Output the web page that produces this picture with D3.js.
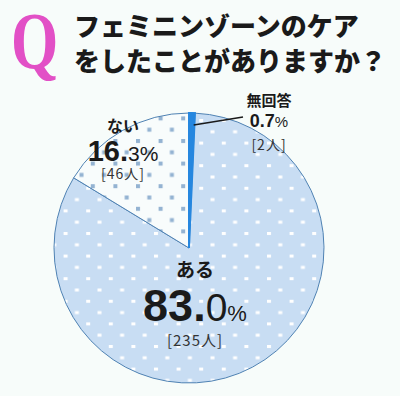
<!DOCTYPE html>
<html>
<head>
<meta charset="utf-8">
<script src="https://cdn.jsdelivr.net/npm/d3@7"></script>
<style>
  body { margin: 0; background: #f7fcfa; }
  text { font-family: "Noto Sans CJK JP", sans-serif; fill: #1a1a1a; }
  .num { font-family: "Liberation Sans", Arial, sans-serif; }
</style>
</head>
<body>
<div id="vis"></div>
<script>
    // answers, clockwise from 12 o'clock
    var labels = ["無回答", "ある", "ない"],
        percents = [0.7, 83.0, 16.3],
        counts = [2, 235, 46];

    var titleLines = ["フェミニンゾーンのケア", "をしたことがありますか？"];

    var width = 400, height = 396,
        cx = 189, cy = 248, radius = 135;

    var svg = d3.select("#vis").append("svg").attr("width", width).attr("height", height);

    svg.append("rect").attr("width", width).attr("height", height).attr("fill", "#f7fcfa");

    // dot patterns
    var defs = svg.append("defs");
    var p1 = defs.append("pattern").attr("id", "dotsYes").attr("patternUnits", "userSpaceOnUse")
        .attr("x", 304).attr("y", 210).attr("width", 22.6).attr("height", 22.6);
    p1.append("rect").attr("width", 22.6).attr("height", 22.6).attr("fill", "#c8ddf3");
    p1.append("rect").attr("x", 0).attr("y", 0).attr("width", 4).attr("height", 3).attr("fill", "#fff");
    p1.append("rect").attr("x", 11.3).attr("y", 11.3).attr("width", 4).attr("height", 3).attr("fill", "#fff");

    var p2 = defs.append("pattern").attr("id", "dotsNo").attr("patternUnits", "userSpaceOnUse")
        .attr("x", 173).attr("y", 117).attr("width", 22.6).attr("height", 22.6);
    p2.append("rect").attr("width", 22.6).attr("height", 22.6).attr("fill", "#f8fcfc");
    p2.append("rect").attr("x", 0).attr("y", 0).attr("width", 4).attr("height", 4).attr("fill", "#94b3d2");
    p2.append("rect").attr("x", 11.3).attr("y", 11.3).attr("width", 4).attr("height", 4).attr("fill", "#94b3d2");

    var fills = ["#2687df", "url(#dotsYes)", "url(#dotsNo)"];

    var pie = d3.pie().sort(null).value(function (d) { return d; });
    var arc = d3.arc().innerRadius(0).outerRadius(radius);

    var g = svg.append("g").attr("transform", "translate(" + cx + "," + cy + ")");

    var slices = pie(percents);

    g.selectAll("path.slice").data(slices).enter().append("path")
        .attr("class", "slice")
        .attr("d", arc)
        .attr("fill", function (d, i) { return fills[i]; })
        .attr("stroke", function (d, i) { return i === 0 ? "#2687df" : "#4f82b3"; })
        .attr("stroke-width", function (d, i) { return i === 0 ? 2 : 1; })
        .attr("stroke-linejoin", "round");

    // redraw the thin slice on top so the outline doesn't hide it
    g.append("path").attr("d", arc(slices[0])).attr("fill", "#2687df")
        .attr("stroke", "#2687df").attr("stroke-width", 2);

    // title
    svg.append("text").attr("transform", "translate(11,68) scale(0.82,1.08)")
        .style("font-family", "'Liberation Serif', serif").style("font-size", "74px")
        .style("font-weight", "bold")
        .style("fill", "#e250c6").text("Q");

    svg.selectAll("text.title").data(titleLines).enter().append("text")
        .attr("class", "title")
        .attr("x", 74).attr("y", function (d, i) { return 36 + i * 35; })
        .style("font-size", "26px").style("font-weight", "900")
        .text(function (d) { return d; });

    // leader for 無回答
    var leadStart = d3.arc().innerRadius(radius - 12).outerRadius(radius - 12).centroid(slices[0]);
    svg.append("line")
        .attr("x1", cx + leadStart[0] + 2).attr("y1", cy + leadStart[1])
        .attr("x2", cx + 54).attr("y2", cy - 131)
        .attr("stroke", "#1a1a1a").attr("stroke-width", 1.6);

    function pct(v) {
        var s = v.toFixed(1).split(".");
        return { head: s[0] + ".", tail: s[1] };
    }

    // 無回答
    var lab0 = svg.append("g").attr("transform", "translate(" + (cx + 80) + "," + (cy - 142) + ")");
    lab0.append("text").attr("text-anchor", "middle").style("font-size", "15px").style("font-weight", "bold").text(labels[0]);
    var t0 = lab0.append("text").attr("class", "num").attr("text-anchor", "middle").attr("y", 21);
    t0.append("tspan").style("font-size", "18px").style("font-weight", "bold").text(percents[0].toFixed(1));
    t0.append("tspan").style("font-size", "15px").text("%");
    lab0.append("text").attr("text-anchor", "middle").attr("y", 44).style("font-size", "14px")
        .style("letter-spacing", "1px").style("fill", "#333").text("[" + counts[0] + "人]");

    // ない
    var lab2 = svg.append("g").attr("transform", "translate(" + (cx - 66) + "," + (cy - 116) + ")");
    lab2.append("text").attr("text-anchor", "middle").style("font-size", "16px").style("font-weight", "bold").text(labels[2]);
    var t2 = lab2.append("text").attr("class", "num").attr("text-anchor", "middle").attr("y", 29);
    var p = pct(percents[2]);
    t2.append("tspan").style("font-size", "29px").style("font-weight", "bold").text(p.head);
    t2.append("tspan").style("font-size", "21px").text(p.tail + "%");
    lab2.append("text").attr("text-anchor", "middle").attr("y", 47).style("font-size", "14px")
        .style("letter-spacing", "1px").style("fill", "#333").text("[" + counts[2] + "人]");

    // ある
    var lab1 = svg.append("g").attr("transform", "translate(" + (cx + 6) + "," + (cy + 29) + ")");
    lab1.append("text").attr("text-anchor", "middle").style("font-size", "19px").style("font-weight", "bold").text(labels[1]);
    var t1 = lab1.append("text").attr("class", "num").attr("text-anchor", "middle").attr("y", 44);
    var q = pct(percents[1]);
    t1.append("tspan").style("font-size", "45px").style("font-weight", "bold").text(q.head);
    t1.append("tspan").style("font-size", "39px").text(q.tail);
    t1.append("tspan").style("font-size", "22px").text("%");
    lab1.append("text").attr("text-anchor", "middle").attr("y", 69).style("font-size", "15px")
        .style("letter-spacing", "1px").style("fill", "#333").text("[" + counts[1] + "人]");
</script>
</body>
</html>
